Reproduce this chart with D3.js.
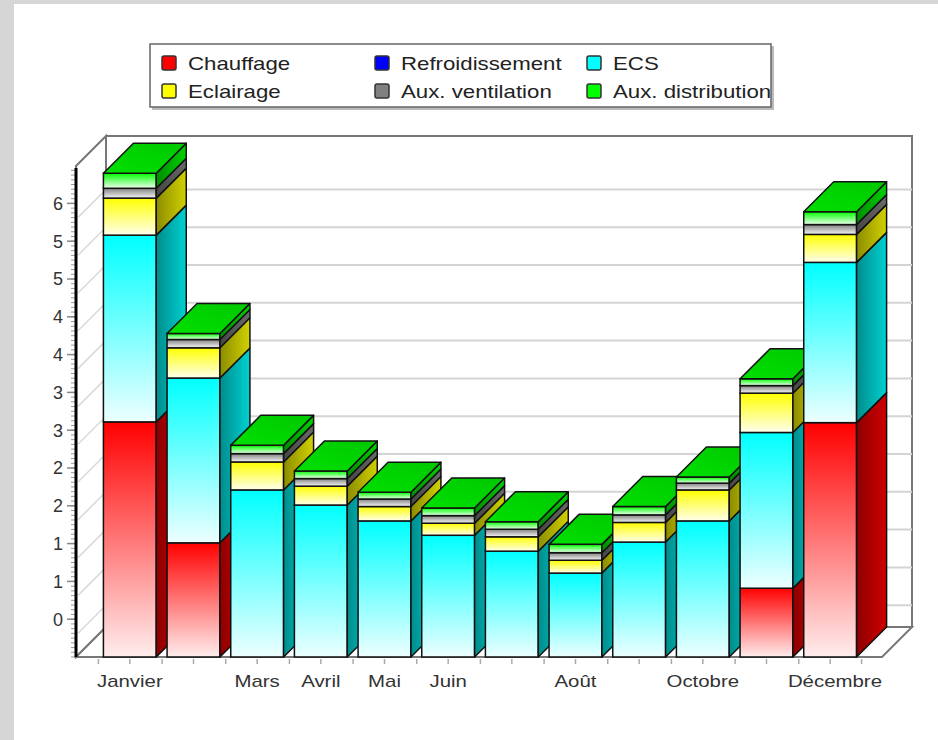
<!DOCTYPE html>
<html>
<head>
<meta charset="utf-8">
<script src="https://cdn.jsdelivr.net/npm/d3@7"></script>
<style>
  body { margin: 0; background: #d6d6d6; }
  svg { display: block; font-family: "Liberation Sans", Arial, sans-serif; }
</style>
</head>
<body>
<svg width="938" height="740"></svg>
<script>
// Data
let months = ["Janvier", "Février", "Mars", "Avril", "Mai", "Juin", "Juillet", "Août", "Septembre", "Octobre", "Novembre", "Décembre"];
let shownLabels = ["Janvier", "Mars", "Avril", "Mai", "Juin", "Août", "Octobre", "Décembre"];
let seriesNames = ["Chauffage", "Refroidissement", "ECS", "Eclairage", "Aux. ventilation", "Aux. distribution"];
let seriesColors = ["#ff0000", "#0000ff", "#00ffff", "#ffff00", "#808080", "#00ff00"];

let chauffage = [3.11, 1.51, 0, 0, 0, 0, 0, 0, 0, 0, 0.91, 3.10];
let refroidissement = [0, 0, 0, 0, 0, 0, 0, 0, 0, 0, 0, 0];
let ecs = [2.47, 2.18, 2.21, 2.01, 1.80, 1.61, 1.40, 1.11, 1.52, 1.80, 2.06, 2.12];
let eclairage = [0.49, 0.40, 0.37, 0.25, 0.19, 0.16, 0.19, 0.17, 0.26, 0.41, 0.52, 0.37];
let auxVentilation = [0.13, 0.11, 0.11, 0.10, 0.10, 0.10, 0.10, 0.10, 0.10, 0.09, 0.10, 0.13];
let auxDistribution = [0.20, 0.08, 0.11, 0.10, 0.09, 0.10, 0.10, 0.11, 0.11, 0.08, 0.09, 0.17];

let yTicks = [0.5, 1, 1.5, 2, 2.5, 3, 3.5, 4, 4.5, 5, 5.5, 6];

// The svg
let svg = d3.select("svg"),
    width = +svg.attr("width"),
    height = +svg.attr("height");

// stretch a text horizontally (the original font is wider than ours)
function stretch(sel, k) {
    sel.each(function() {
        let len = this.getComputedTextLength();
        d3.select(this)
            .attr("textLength", len * k)
            .attr("lengthAdjust", "spacingAndGlyphs");
    });
}

// white panel
svg.append("rect")
    .attr("x", 14).attr("y", 4)
    .attr("width", width - 14).attr("height", height - 4)
    .attr("fill", "#fff");

// 3D geometry
let depth = 30;
let plotLeft = 76, plotRight = 882, plotBottom = 657, plotTop = 166;

let x = d3.scaleBand()
    .domain(months)
    .range([98, 862])
    .paddingInner(0.17)
    .paddingOuter(0.085);

let y = d3.scaleLinear()
    .domain([0, 6.5])
    .range([plotBottom, plotBottom - 6.5 * 75.6]);

// Gradients
let defs = svg.append("defs");
seriesColors.forEach(function(c, i) {
    let g = defs.append("linearGradient")
        .attr("id", "front" + i)
        .attr("x1", 0).attr("y1", 0).attr("x2", 0).attr("y2", 1);
    g.append("stop").attr("offset", 0).attr("stop-color", c);
    g.append("stop").attr("offset", 1).attr("stop-color", d3.interpolateRgb(c, "#fff")(0.93));

    let s = defs.append("linearGradient")
        .attr("id", "side" + i)
        .attr("x1", 0).attr("y1", 0).attr("x2", 1).attr("y2", 0);
    s.append("stop").attr("offset", 0).attr("stop-color", d3.interpolateRgb(c, "#000")(0.45));
    s.append("stop").attr("offset", 1).attr("stop-color", d3.interpolateRgb(c, "#000")(0.18));
});
let tg = defs.append("linearGradient")
    .attr("id", "topface")
    .attr("x1", 0).attr("y1", 1).attr("x2", 1).attr("y2", 0);
tg.append("stop").attr("offset", 0).attr("stop-color", "#00e000");
tg.append("stop").attr("offset", 1).attr("stop-color", "#00c800");

// Walls
let wall = svg.append("g");
// back wall
wall.append("rect")
    .attr("x", plotLeft + depth).attr("y", plotTop - depth)
    .attr("width", plotRight - plotLeft).attr("height", plotBottom - plotTop)
    .attr("fill", "#fff")
    .attr("stroke", "#777").attr("stroke-width", 2);
// left wall
wall.append("polygon")
    .attr("points", [[plotLeft, plotTop], [plotLeft + depth, plotTop - depth], [plotLeft + depth, plotBottom - depth], [plotLeft, plotBottom]].join(" "))
    .attr("fill", "#fff")
    .attr("stroke", "#777").attr("stroke-width", 2);
// floor
wall.append("polygon")
    .attr("points", [[plotLeft, plotBottom], [plotLeft + depth, plotBottom - depth], [plotRight + depth, plotBottom - depth], [plotRight, plotBottom]].join(" "))
    .attr("fill", "#fff")
    .attr("stroke", "#777").attr("stroke-width", 2);

// Grid lines on back wall and left wall
let gridOff = 14;
wall.selectAll(".grid")
    .data(yTicks)
    .enter().append("line")
    .attr("x1", plotLeft + depth).attr("x2", plotRight + depth)
    .attr("y1", d => y(d) - gridOff).attr("y2", d => y(d) - gridOff)
    .attr("stroke", "#d4d4d4").attr("stroke-width", 2);
wall.selectAll(".diag")
    .data(yTicks)
    .enter().append("line")
    .attr("x1", plotLeft + 2).attr("x2", plotLeft + depth)
    .attr("y1", d => y(d) - gridOff + depth - 2).attr("y2", d => y(d) - gridOff)
    .attr("stroke", "#d8d8d8").attr("stroke-width", 1.5);

// Y axis line and ticks
let minorTicks = d3.range(0, 6.5, 0.0625);
svg.selectAll(".minor")
    .data(minorTicks)
    .enter().append("line")
    .attr("x1", plotLeft - 5).attr("x2", plotLeft)
    .attr("y1", d => y(d)).attr("y2", d => y(d))
    .attr("stroke", "#999").attr("stroke-width", 1);
svg.selectAll(".major")
    .data(yTicks)
    .enter().append("line")
    .attr("x1", plotLeft - 9).attr("x2", plotLeft)
    .attr("y1", d => y(d)).attr("y2", d => y(d))
    .attr("stroke", "#888").attr("stroke-width", 1.5);
svg.append("line")
    .attr("x1", plotLeft).attr("x2", plotLeft)
    .attr("y1", plotTop + 2).attr("y2", plotBottom)
    .attr("stroke", "#000").attr("stroke-width", 3);
svg.selectAll(".ylab")
    .data(yTicks)
    .enter().append("text")
    .attr("x", 63).attr("y", d => y(d))
    .attr("dy", "0.35em")
    .attr("text-anchor", "end")
    .attr("font-size", 18)
    .attr("fill", "#333")
    .text(d => Math.floor(d));

// X ticks
let xTicks = [];
months.forEach(function(m) {
    xTicks.push(x(m) - 5, x(m) + x.bandwidth() / 2);
});
xTicks.push(x("Décembre") + x.bandwidth() + 5);
svg.selectAll(".xtick")
    .data(xTicks)
    .enter().append("line")
    .attr("x1", d => d).attr("x2", d => d)
    .attr("y1", plotBottom + 2).attr("y2", plotBottom + 7)
    .attr("stroke", "#aaa").attr("stroke-width", 1.5);

// Stack the data
let rows = months.map(function(m, i) {
    return {
        month: m,
        "Chauffage": chauffage[i],
        "Refroidissement": refroidissement[i],
        "ECS": ecs[i],
        "Eclairage": eclairage[i],
        "Aux. ventilation": auxVentilation[i],
        "Aux. distribution": auxDistribution[i]
    };
});
let stacked = d3.stack().keys(seriesNames)(rows);

// Draw the bars, month by month so later bars cover earlier sides
let bw = x.bandwidth();
months.forEach(function(m, i) {
    let g = svg.append("g");
    let x0 = x(m);
    let topIdx = -1;
    stacked.forEach(function(s, k) { if (s[i][1] - s[i][0] > 0) topIdx = k; });
    stacked.forEach(function(s, k) {
        let v0 = s[i][0], v1 = s[i][1];
        if (v1 - v0 <= 0) return;
        let yb = y(v0), yt = y(v1);
        g.append("rect")
            .attr("x", x0).attr("y", yt)
            .attr("width", bw).attr("height", yb - yt)
            .attr("fill", "url(#front" + k + ")")
            .attr("stroke", "#111").attr("stroke-width", 1.5);
        g.append("polygon")
            .attr("points", [[x0 + bw, yb], [x0 + bw, yt], [x0 + bw + depth, yt - depth], [x0 + bw + depth, yb - depth]].join(" "))
            .attr("fill", "url(#side" + k + ")")
            .attr("stroke", "#111").attr("stroke-width", 1.5)
            .attr("stroke-linejoin", "round");
        if (k === topIdx) {
            g.append("polygon")
                .attr("points", [[x0, yt], [x0 + bw, yt], [x0 + bw + depth, yt - depth], [x0 + depth, yt - depth]].join(" "))
                .attr("fill", "url(#topface)")
                .attr("stroke", "#111").attr("stroke-width", 1.5)
                .attr("stroke-linejoin", "round");
        }
    });
});

// X labels (the last one is kept inside the floor edge)
let xLabels = svg.selectAll(".xlab")
    .data(shownLabels)
    .enter().append("text")
    .attr("x", d => d === "Décembre" ? plotRight : x(d) + bw / 2)
    .attr("y", 687)
    .attr("text-anchor", d => d === "Décembre" ? "end" : "middle")
    .attr("font-size", 17)
    .attr("fill", "#333")
    .text(d => d);
stretch(xLabels, 1.2);

// Legend
let legend = svg.append("g");
legend.append("rect")
    .attr("x", 152).attr("y", 46)
    .attr("width", 622).attr("height", 64)
    .attr("fill", "#bbb");
legend.append("rect")
    .attr("x", 150).attr("y", 44)
    .attr("width", 621).attr("height", 63)
    .attr("fill", "#fff")
    .attr("stroke", "#666").attr("stroke-width", 1.5);
let legX = [162, 375, 587];
let legY = [63, 91];
seriesNames.forEach(function(name, i) {
    let col = i % 3, row = Math.floor(i / 3);
    legend.append("rect")
        .attr("x", legX[col]).attr("y", legY[row] - 7)
        .attr("width", 14).attr("height", 14)
        .attr("rx", 2)
        .attr("fill", seriesColors[i])
        .attr("stroke", "#333").attr("stroke-width", 1.5);
    let t = legend.append("text")
        .attr("x", legX[col] + 26).attr("y", legY[row])
        .attr("dy", "0.35em")
        .attr("font-size", 19)
        .attr("fill", "#222")
        .text(name);
    stretch(t, 1.17);
});
</script>
</body>
</html>
